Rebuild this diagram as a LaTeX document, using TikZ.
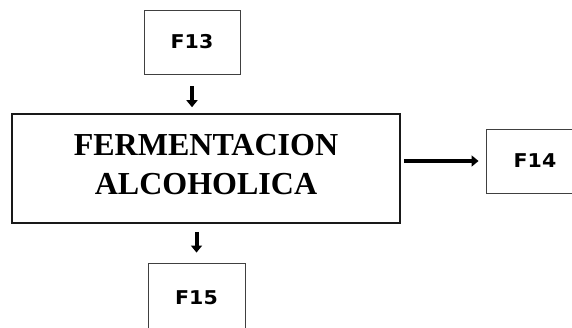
\documentclass[tikz,border=0pt]{standalone}
\usepackage{fontspec}
\setmainfont{Liberation Serif}
\newfontfamily\labfont[FakeStretch=1.08]{DejaVu Sans}
\usetikzlibrary{arrows.meta}
\begin{document}
\begin{tikzpicture}[x=1pt,y=-1pt,
  smallbox/.style={draw=black!75, line width=0.9pt, inner sep=0pt, font=\labfont\bfseries\fontsize{19}{22}\selectfont},
  mainbox/.style={draw=black!90, line width=1.6pt, inner sep=0pt, minimum width=388pt, minimum height=109pt},
  flow/.style={line width=4pt, -{Triangle[width=11pt,length=7pt]}}]
\useasboundingbox (0,0) rectangle (572,327);
\clip (0,0) rectangle (572,327);
\node[smallbox, minimum width=96pt, minimum height=64pt] (f13) at (192,42) {F13};
\node[mainbox] (main) at (206,168.5) {};
\node[anchor=base, align=center, font=\bfseries\fontsize{32}{39}\selectfont] (maintext) at (206,194) {FERMENTACION\\ALCOHOLICA};
\node[smallbox, minimum width=98pt, minimum height=64pt] (f14) at (535,161) {F14};
\node[smallbox, minimum width=97pt, minimum height=70pt] (f15) at (196.5,298) {F15};
\draw[flow, shorten <=12pt, shorten >=6pt] (f13.south) -- (f13.south |- main.north);
\draw[flow, shorten <=8pt, shorten >=10pt] (main.south -| f15.north) -- (f15.north);
\draw[flow, line width=4.5pt, shorten <=3pt, shorten >=7pt] (main.east |- f14.west) -- (f14.west);
\end{tikzpicture}
\end{document}
